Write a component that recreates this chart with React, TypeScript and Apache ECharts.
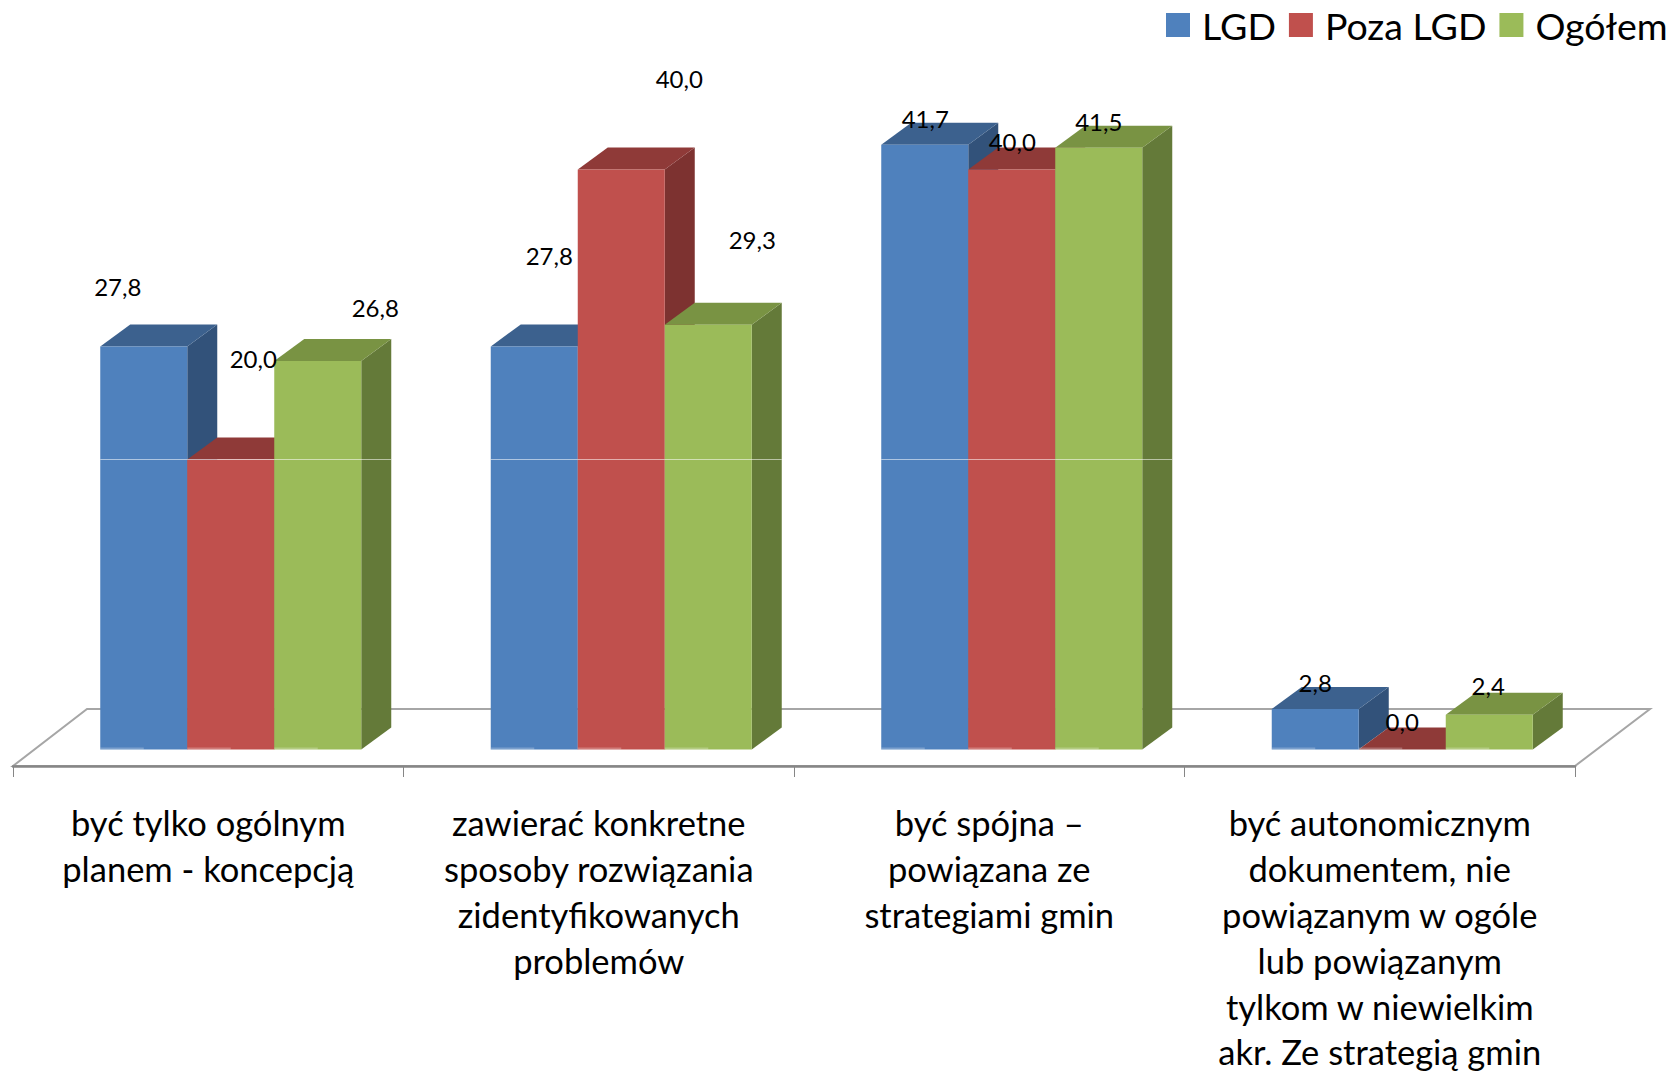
import React, { useEffect, useRef } from "react";
import * as echarts from "echarts";

const categories = [
  "być tylko ogólnym\nplanem - koncepcją",
  "zawierać konkretne\nsposoby rozwiązania\nzidentyfikowanych\nproblemów",
  "być spójna –\npowiązana ze\nstrategiami gmin",
  "być autonomicznym\ndokumentem, nie\npowiązanym w ogóle\nlub powiązanym\ntylkom w niewielkim\nakr. Ze strategią gmin",
];
const seriesNames = ["LGD", "Poza LGD", "Ogółem"];
const lgd = [27.8, 27.8, 41.7, 2.8];
const pozaLgd = [20.0, 40.0, 40.0, 0.0];
const ogolem = [26.8, 29.3, 41.5, 2.4];

// Label displacement from the middle of each bar's front top edge
const labelShiftLgd = [[-26, -59.5], [15, -90.5], [0.5, -26.5], [0, -26.5]];
const labelShiftPoza = [[22.5, -101], [58, -91], [0.5, -28], [0, -28]];
const labelShiftOgolem = [[57.5, -53.5], [44, -85], [0, -26], [-1, -29]];

const faceColors = [
  { front: "#4F81BD", top: "#3C618E", side: "#32527A" },
  { front: "#C0504D", top: "#8F3A38", side: "#7D3230" },
  { front: "#9BBB59", top: "#799343", side: "#647A39" },
];
const FONT = "Lato";
const BAR_W = 87;
const GROUP_LEFT = -108;
const DEPTH_X = 30;
const DEPTH_Y = -22;
const GRID_VALUE = 20;

function makeSeries(index: number, values: number[], shifts: number[][]) {
  const c = faceColors[index];
  return {
    type: "custom",
    name: seriesNames[index],
    itemStyle: { color: c.front },
    data: values.map((v, i) => [i, v]),
    encode: { x: 0, y: 1 },
    clip: false,
    renderItem: (params: any, api: any) => {
      const cat = api.value(0);
      const val = api.value(1);
      const [cx, yTop] = api.coord([cat, val]);
      const [, yBase] = api.coord([cat, 0]);
      const [, yGrid] = api.coord([cat, GRID_VALUE]);
      const x = cx + GROUP_LEFT + index * BAR_W;
      const z = index + 1;
      const children: any[] = [
        {
          type: "polygon",
          z2: z,
          shape: { points: [[x + BAR_W, yTop], [x + BAR_W + DEPTH_X, yTop + DEPTH_Y], [x + BAR_W + DEPTH_X, yBase + DEPTH_Y], [x + BAR_W, yBase]] },
          style: { fill: c.side },
        },
        {
          type: "polygon",
          z2: z,
          shape: { points: [[x, yTop], [x + BAR_W, yTop], [x + BAR_W + DEPTH_X, yTop + DEPTH_Y], [x + DEPTH_X, yTop + DEPTH_Y]] },
          style: { fill: c.top },
        },
        {
          type: "rect",
          z2: z,
          shape: { x, y: yTop, width: BAR_W, height: yBase - yTop },
          style: { fill: c.front },
        },
        {
          type: "rect",
          z2: z,
          shape: { x, y: yBase - 2, width: BAR_W / 2, height: 2 },
          style: { fill: "rgba(255,255,255,0.25)" },
        },
      ];
      if (val >= GRID_VALUE) {
        const lineEnd = x + BAR_W + (index === faceColors.length - 1 ? DEPTH_X : 0);
        children.push({
          type: "line",
          z2: 50,
          shape: { x1: x, y1: yGrid, x2: lineEnd, y2: yGrid },
          style: { stroke: "rgba(255,255,255,0.55)", lineWidth: 1 },
        });
      }
      const s = shifts[params.dataIndex];
      children.push({
        type: "text",
        z2: 100,
        x: x + BAR_W / 2 + s[0],
        y: yTop + s[1],
        style: {
          text: val.toFixed(1).replace(".", ","),
          fontFamily: FONT,
          fontSize: 24,
          fill: "#000",
          align: "center",
          verticalAlign: "middle",
        },
      });
      return { type: "group", children };
    },
  };
}

export default function App() {
  const ref = useRef<HTMLDivElement>(null);
  useEffect(() => {
    const chart = echarts.init(ref.current!, undefined, { renderer: "svg" });
    chart.setOption({
      animation: false,
      backgroundColor: "#fff",
      grid: { left: 13, width: 1562, top: 24.5, height: 725, outerBoundsMode: "none" },
      legend: {
        left: 1166,
        top: 6,
        width: 509,
        padding: 0,
        itemWidth: 24,
        itemHeight: 24,
        itemGap: 13,
        icon: "rect",
        data: seriesNames,
        textStyle: { fontFamily: FONT, fontSize: 37.5, color: "#000", padding: [0, 0, 4, 7] },
      },
      xAxis: {
        type: "category",
        data: categories,
        offset: 16.5,
        axisLine: { show: true, onZero: false, lineStyle: { color: "#868686", width: 2.5 } },
        axisTick: { show: true, length: 11, lineStyle: { color: "#868686", width: 1 } },
        axisLabel: {
          interval: 0,
          margin: 34,
          fontFamily: FONT,
          fontSize: 34.5,
          lineHeight: 45.8,
          color: "#000",
          align: "center",
        },
      },
      yAxis: { type: "value", min: 0, max: 50, show: false },
      graphic: [
        {
          type: "polygon",
          z: -1,
          silent: true,
          shape: { points: [[13, 766], [87, 709], [1650, 709], [1575, 766]] },
          style: { fill: "#fff", stroke: "#A6A6A6", lineWidth: 2 },
        },
      ],
      series: [
        makeSeries(0, lgd, labelShiftLgd),
        makeSeries(1, pozaLgd, labelShiftPoza),
        makeSeries(2, ogolem, labelShiftOgolem),
      ],
    });
    return () => chart.dispose();
  }, []);
  return <div ref={ref} style={{ position: "absolute", left: 0, top: 0, width: 1675, height: 1072 }} />;
}
